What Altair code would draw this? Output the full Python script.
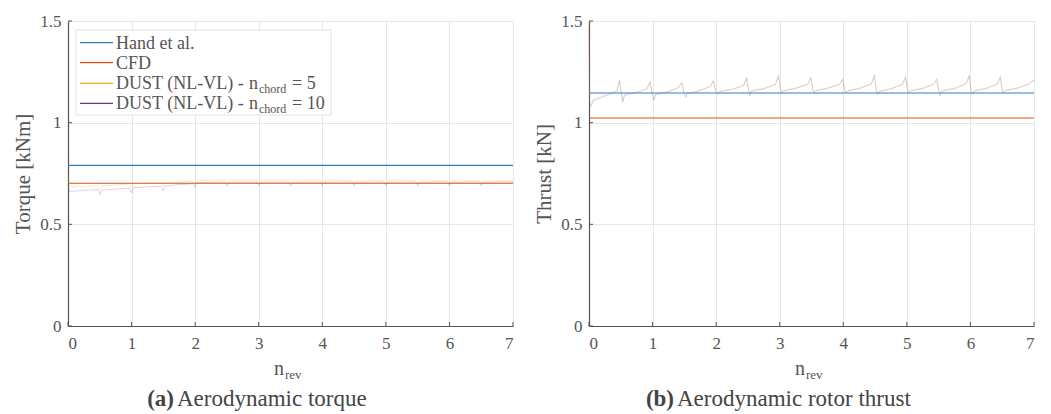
import altair as alt
import pandas as pd

# ---------------- data ----------------
series_names = ["Hand et al.", "CFD", "DUST (NL-VL) - n_chord = 5", "DUST (NL-VL) - n_chord = 10"]
series_colors = ["#2F7DCC", "#D95319", "#EDB120", "#7E2F8E"]

x_ticks = [0, 1, 2, 3, 4, 5, 6, 7]
y_ticks = [0, 0.5, 1, 1.5]

hand_torque = 0.790
cfd_torque = 0.702
hand_thrust = 1.146
cfd_thrust = 1.023

torque_x = [0.00, 0.02, 0.10, 0.30,
            0.47, 0.50, 0.53, 0.75,
            0.97, 1.00, 1.03, 1.25,
            1.47, 1.50, 1.53, 1.75,
            1.97, 2.00, 2.03, 2.25,
            2.47, 2.50, 2.53, 2.75,
            2.97, 3.00, 3.03, 3.25,
            3.47, 3.50, 3.53, 3.75,
            3.97, 4.00, 4.03, 4.25,
            4.47, 4.50, 4.53, 4.75,
            4.97, 5.00, 5.03, 5.25,
            5.47, 5.50, 5.53, 5.75,
            5.97, 6.00, 6.03, 6.25,
            6.47, 6.50, 6.53, 6.75,
            7.00]
torque_dust5 = [0.730, 0.690, 0.684, 0.688,
                0.692, 0.668, 0.690, 0.694,
                0.698, 0.680, 0.700, 0.702,
                0.704, 0.688, 0.706, 0.708,
                0.712, 0.696, 0.714, 0.716,
                0.718, 0.700, 0.715, 0.717,
                0.719, 0.702, 0.716, 0.717,
                0.718, 0.703, 0.715, 0.716,
                0.718, 0.700, 0.714, 0.716,
                0.717, 0.702, 0.715, 0.716,
                0.717, 0.700, 0.714, 0.716,
                0.717, 0.701, 0.714, 0.715,
                0.716, 0.700, 0.714, 0.715,
                0.716, 0.700, 0.713, 0.715,
                0.714]
torque_dust10 = [0.700, 0.660, 0.664, 0.668,
                 0.672, 0.645, 0.668, 0.673,
                 0.678, 0.655, 0.680, 0.684,
                 0.688, 0.665, 0.690, 0.695,
                 0.700, 0.680, 0.705, 0.707,
                 0.708, 0.688, 0.707, 0.708,
                 0.709, 0.690, 0.707, 0.708,
                 0.709, 0.688, 0.706, 0.708,
                 0.709, 0.690, 0.707, 0.708,
                 0.709, 0.688, 0.706, 0.708,
                 0.709, 0.690, 0.707, 0.708,
                 0.709, 0.688, 0.706, 0.708,
                 0.709, 0.690, 0.707, 0.708,
                 0.709, 0.688, 0.706, 0.708,
                 0.708]

thrust_x = [0.00, 0.01, 0.03, 0.07, 0.25,
            0.44, 0.48, 0.51, 0.53, 0.56, 0.75,
            0.91, 0.96, 0.99, 1.02, 1.05, 1.25,
            1.41, 1.46, 1.49, 1.52, 1.55, 1.75,
            1.91, 1.96, 1.99, 2.02, 2.05, 2.25,
            2.43, 2.48, 2.51, 2.53, 2.56, 2.75,
            2.93, 2.98, 3.01, 3.03, 3.06, 3.25,
            3.44, 3.49, 3.52, 3.54, 3.57, 3.75,
            3.94, 3.99, 4.02, 4.04, 4.07, 4.25,
            4.44, 4.49, 4.52, 4.54, 4.57, 4.75,
            4.93, 4.98, 5.01, 5.03, 5.06, 5.25,
            5.42, 5.47, 5.50, 5.52, 5.55, 5.75,
            5.93, 5.98, 6.01, 6.03, 6.06, 6.25,
            6.42, 6.47, 6.50, 6.52, 6.55, 6.75,
            6.94, 6.98, 7.00]
thrust_dust5 = [1.480, 1.100, 1.085, 1.115, 1.135,
                1.160, 1.213, 1.150, 1.100, 1.140, 1.150,
                1.170, 1.205, 1.150, 1.115, 1.140, 1.155,
                1.175, 1.200, 1.150, 1.130, 1.145, 1.160,
                1.180, 1.213, 1.160, 1.145, 1.155, 1.165,
                1.185, 1.225, 1.165, 1.150, 1.160, 1.170,
                1.190, 1.238, 1.170, 1.150, 1.160, 1.170,
                1.190, 1.225, 1.165, 1.150, 1.160, 1.170,
                1.190, 1.218, 1.165, 1.150, 1.158, 1.170,
                1.192, 1.238, 1.160, 1.135, 1.155, 1.168,
                1.190, 1.230, 1.165, 1.150, 1.158, 1.170,
                1.190, 1.218, 1.165, 1.150, 1.158, 1.170,
                1.192, 1.238, 1.160, 1.145, 1.158, 1.170,
                1.190, 1.230, 1.165, 1.150, 1.160, 1.172,
                1.195, 1.213, 1.200]
thrust_dust10 = [1.470, 1.090, 1.080, 1.110, 1.130,
                 1.155, 1.205, 1.145, 1.105, 1.135, 1.148,
                 1.165, 1.198, 1.145, 1.110, 1.138, 1.152,
                 1.172, 1.195, 1.148, 1.125, 1.142, 1.158,
                 1.178, 1.205, 1.155, 1.140, 1.152, 1.162,
                 1.182, 1.218, 1.160, 1.130, 1.155, 1.166,
                 1.186, 1.228, 1.165, 1.145, 1.156, 1.168,
                 1.188, 1.220, 1.160, 1.148, 1.157, 1.168,
                 1.188, 1.212, 1.162, 1.146, 1.156, 1.167,
                 1.190, 1.228, 1.158, 1.140, 1.153, 1.166,
                 1.188, 1.222, 1.162, 1.148, 1.156, 1.168,
                 1.188, 1.212, 1.160, 1.130, 1.155, 1.167,
                 1.190, 1.228, 1.158, 1.140, 1.155, 1.168,
                 1.188, 1.222, 1.162, 1.145, 1.158, 1.170,
                 1.192, 1.208, 1.198]

# ---------------- style ----------------
FONT = "Liberation Serif"
TXT = "#555555"
AX = "#555555"
W, H = 445, 305


def dust_frame(xs, y5, y10):
    rows = []
    for x, a in zip(xs, y5):
        rows.append({"x": x, "y": a, "s": series_names[2]})
    for x, b in zip(xs, y10):
        rows.append({"x": x, "y": b, "s": series_names[3]})
    return pd.DataFrame(rows)


color_scale = alt.Scale(domain=series_names, range=series_colors)
x_scale = alt.Scale(domain=[0, 7], nice=False, zero=False)
y_scale = alt.Scale(domain=[0, 1.5], nice=False)

one = alt.Data(values=[{"k": 0}])


def text_at(txt, x, y, size, align="left", weight="normal", color=TXT, baseline="alphabetic"):
    return alt.Chart(one).mark_text(
        text=txt, font=FONT, fontSize=size, align=align, baseline=baseline,
        fontWeight=weight, color=color
    ).encode(x=alt.value(x), y=alt.value(y))


def panel(xs, y5, y10, hand, cfd, ytitle, tag, caption, cap_x, legend=False):
    df = dust_frame(xs, y5, y10)
    xaxis = alt.Axis(values=x_ticks, title=None, grid=True, ticks=False, labelPadding=9,
                     format="~g")
    yaxis = alt.Axis(values=y_ticks, title=ytitle, grid=True, ticks=False, labelPadding=7,
                     format="~g", titlePadding=6)
    dust = alt.Chart(df).mark_line(strokeWidth=1, opacity=0.22).encode(
        x=alt.X("x:Q", scale=x_scale, axis=xaxis),
        y=alt.Y("y:Q", scale=y_scale, axis=yaxis),
        color=alt.Color("s:N", scale=color_scale, legend=None),
        detail="s:N",
    )
    const_df = pd.DataFrame({"v": [hand, cfd], "s": series_names[:2]})
    consts = alt.Chart(const_df).mark_rule(strokeWidth=1.2).encode(
        y=alt.Y("v:Q", scale=y_scale, axis=yaxis),
        color=alt.Color("s:N", scale=color_scale, legend=None),
    )
    # inward tick marks
    xt = alt.Chart(pd.DataFrame({"t": x_ticks})).mark_rule(color=AX, strokeWidth=1).encode(
        x=alt.X("t:Q", scale=x_scale, axis=xaxis), y=alt.value(H), y2=alt.value(H - 4))
    yt = alt.Chart(pd.DataFrame({"t": y_ticks})).mark_rule(color=AX, strokeWidth=1).encode(
        y=alt.Y("t:Q", scale=y_scale, axis=yaxis), x=alt.value(0), x2=alt.value(4))
    layers = [dust, consts, xt, yt]
    # x-axis title n_rev
    layers.append(text_at("n", 216, H + 49, 20, align="right"))
    layers.append(text_at("rev", 217, H + 53, 13))
    # caption
    layers.append(text_at(tag, cap_x, H + 80, 23, align="right", weight="bold", color="#444444"))
    layers.append(text_at(caption, cap_x + 3, H + 80, 23, color="#444444"))
    if legend:
        box = alt.Chart(one).mark_rect(fill="white", stroke="#e2e2e2", strokeWidth=1).encode(
            x=alt.value(8), x2=alt.value(263), y=alt.value(9), y2=alt.value(94))
        layers.append(box)
        rows_y = [21.7, 41.7, 62.3, 82.3]
        for i, ry in enumerate(rows_y):
            layers.append(alt.Chart(one).mark_rule(color=series_colors[i], strokeWidth=1.2).encode(
                x=alt.value(12), x2=alt.value(45), y=alt.value(ry)))
        layers.append(text_at("Hand et al.", 48, rows_y[0] + 6, 18))
        layers.append(text_at("CFD", 48, rows_y[1] + 6, 18))
        for i, num in [(2, "= 5"), (3, "= 10")]:
            ry = rows_y[i] + 6
            layers.append(text_at("DUST (NL-VL) -", 48, ry, 18))
            layers.append(text_at("n", 181, ry, 18))
            layers.append(text_at("chord", 191, ry + 4, 12))
            layers.append(text_at(num, 224, ry, 18))
    return alt.layer(*layers).properties(width=W, height=H)


left = panel(torque_x, torque_dust5, torque_dust10, hand_torque, cfd_torque,
             "Torque [kNm]", "(a)", "Aerodynamic torque", 106, legend=True)
right = panel(thrust_x, thrust_dust5, thrust_dust10, hand_thrust, cfd_thrust,
              "Thrust [kN]", "(b)", "Aerodynamic rotor thrust", 85)

chart = alt.hconcat(left, right, spacing=17).properties(
    padding={"left": 4, "top": 3, "right": 5, "bottom": 0}
).configure_view(
    stroke="#e2e2e2", strokeWidth=1
).configure_axis(
    labelFont=FONT, labelFontSize=17, labelColor=TXT,
    titleFont=FONT, titleFontSize=21, titleColor=TXT, titleFontWeight="normal",
    domainColor=AX, domainWidth=1.2,
    gridColor="#e6e6e6", gridWidth=1,
)

chart.save("out.html", embed_options={"renderer": "svg", "actions": False})
